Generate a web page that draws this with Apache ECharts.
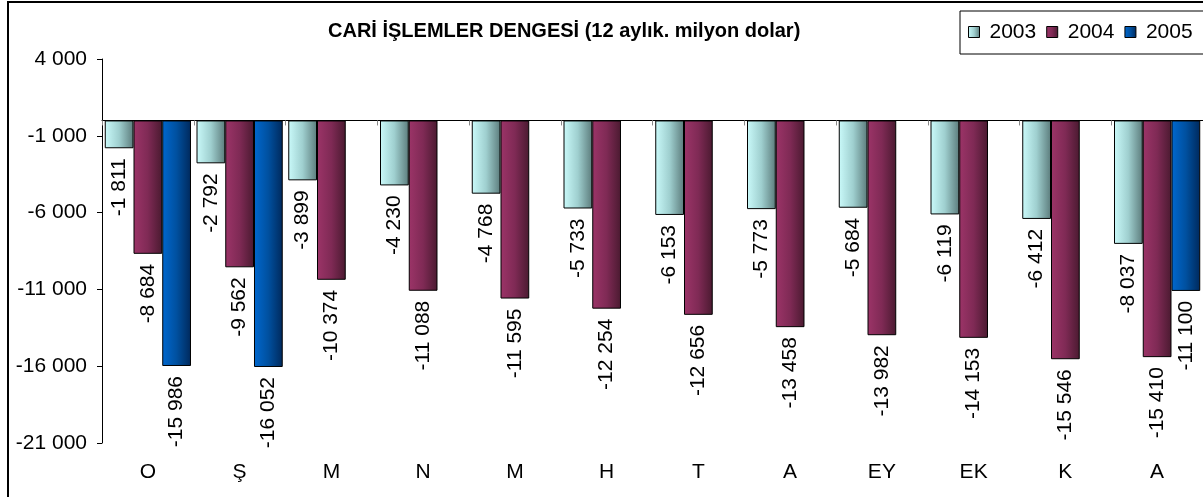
<!DOCTYPE html>
<html>
<head>
<meta charset="utf-8">
<script src="https://cdn.jsdelivr.net/npm/echarts@6/dist/echarts.min.js"></script>
<style>
html,body{margin:0;padding:0;background:#fff;}
#c{width:1203px;height:497px;}
</style>
</head>
<body>
<div id="c"></div>
<script>
var titleText = 'CARİ İŞLEMLER DENGESİ (12 aylık. milyon dolar)';
var categories = ['O', 'Ş', 'M', 'N', 'M', 'H', 'T', 'A', 'EY', 'EK', 'K', 'A'];
var seriesNames = ['2003', '2004', '2005'];
var values2003 = [-1811, -2792, -3899, -4230, -4768, -5733, -6153, -5773, -5684, -6119, -6412, -8037];
var values2004 = [-8684, -9562, -10374, -11088, -11595, -12254, -12656, -13458, -13982, -14153, -15546, -15410];
var values2005 = [-15986, -16052, null, null, null, null, null, null, null, null, null, -11100];
var yMin = -21000, yMax = 4000, yStep = 5000;

function fmt(v) {
  var s = Math.abs(v).toString().replace(/\B(?=(\d{3})+(?!\d))/g, ' ');
  return (v < 0 ? '-' : '') + s;
}
function grad(c1, c2, c3) {
  return {type: 'linear', x: 0, y: 0, x2: 1, y2: 0,
    colorStops: [{offset: 0, color: c1}, {offset: 0.5, color: c2}, {offset: 1, color: c3}]};
}
var FONT = 'Liberation Sans, Arial, sans-serif';
var colors = [
  grad('#cafafa', '#9fcfcf', '#5c7c7c'),
  grad('#9c3468', '#7f2a55', '#4a1a30'),
  grad('#0068cf', '#00509f', '#00295c')
];
var dataSets = [values2003, values2004, values2005];

var series = dataSets.map(function (d, i) {
  return {
    name: seriesNames[i],
    type: 'bar',
    xAxisIndex: 0,
    data: d,
    barGap: '0%',
    barCategoryGap: '6%',
    itemStyle: {color: colors[i], borderColor: '#000', borderWidth: 1},
    label: {
      show: true,
      position: 'bottom',
      rotate: 90,
      align: 'right',
      verticalAlign: 'middle',
      distance: 10,
      fontFamily: FONT,
      fontSize: 21,
      color: '#000',
      formatter: function (p) { return p.value == null ? '' : fmt(p.value); }
    }
  };
});

var chart = echarts.init(document.getElementById('c'), null, {renderer: 'canvas'});
chart.setOption({
  animation: false,
  backgroundColor: '#fff',
  textStyle: {fontFamily: FONT},
  title: {
    text: titleText,
    left: 328,
    top: 21,
    padding: 0,
    textStyle: {fontFamily: FONT, fontSize: 20, fontWeight: 'bold', color: '#000'}
  },
  legend: {
    orient: 'horizontal',
    left: 960,
    top: 11,
    width: 300,
    padding: [10, 40, 11, 8],
    itemWidth: 11,
    itemHeight: 11,
    itemGap: 10,
    borderColor: '#000',
    borderWidth: 1,
    icon: 'rect',
    itemStyle: {borderColor: '#000', borderWidth: 1},
    textStyle: {fontFamily: FONT, fontSize: 21, color: '#000', padding: [0, 0, 0, 5], lineHeight: 22},
    data: seriesNames
  },
  graphic: [{
    type: 'rect',
    shape: {x: 8, y: 2, width: 1400, height: 700},
    style: {fill: 'none', stroke: '#000', lineWidth: 2},
    silent: true,
    z: 100
  }],
  grid: {left: 102, top: 59, width: 1102, height: 384, containLabel: false},
  xAxis: [{
    type: 'category',
    data: categories,
    position: 'bottom',
    axisLine: {show: false, onZero: false},
    axisTick: {show: false},
    axisLabel: {fontFamily: FONT, fontSize: 21, color: '#000', margin: 19, interval: 0},
    splitLine: {show: false}
  }, {
    type: 'category',
    data: categories,
    position: 'bottom',
    axisLine: {show: true, onZero: true, lineStyle: {color: '#000', width: 1}},
    axisTick: {show: true, length: 5, lineStyle: {color: '#888'}},
    axisLabel: {show: false},
    splitLine: {show: false}
  }],
  yAxis: {
    type: 'value',
    min: yMin,
    max: yMax,
    interval: yStep,
    axisLine: {show: true, lineStyle: {color: '#000', width: 1}},
    axisTick: {show: true, length: 5, lineStyle: {color: '#000'}},
    axisLabel: {fontFamily: FONT, fontSize: 21, color: '#000', margin: 15, formatter: fmt},
    splitLine: {show: false}
  },
  series: series
});
</script>
</body>
</html>
